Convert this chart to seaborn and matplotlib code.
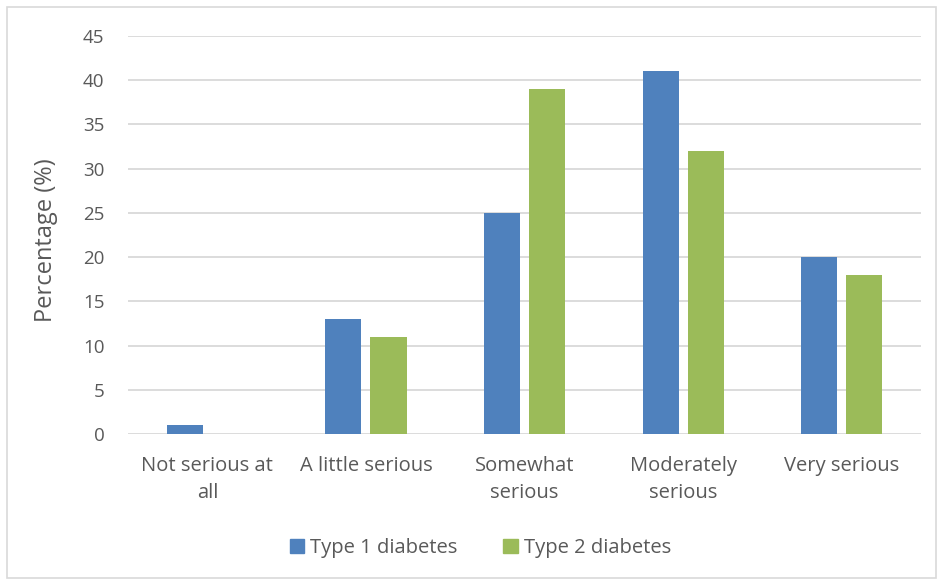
import matplotlib
matplotlib.use("Agg")
import matplotlib.pyplot as plt
from matplotlib.patches import Rectangle
import seaborn as sns
import pandas as pd

categories = ["Not serious at\nall", "A little serious", "Somewhat\nserious",
              "Moderately\nserious", "Very serious"]
series_names = ["Type 1 diabetes", "Type 2 diabetes"]
type1_values = [1, 13, 25, 41, 20]
type2_values = [0, 11, 39, 32, 18]
y_ticks = [0, 5, 10, 15, 20, 25, 30, 35, 40, 45]

df = pd.DataFrame({
    "category": categories * 2,
    "group": [series_names[0]] * len(categories) + [series_names[1]] * len(categories),
    "value": type1_values + type2_values,
})

sns.set_theme(style="white")
plt.rcParams["font.family"] = ["Open Sans", "DejaVu Sans"]
text_color = "#595959"
grid_color = "#D9D9D9"

fig = plt.figure(figsize=(9.38, 5.82), dpi=100)
ax = fig.add_axes([0.1365, 0.2543, 0.8455, 0.6838])

sns.barplot(data=df, x="category", y="value", hue="group", order=categories,
            hue_order=series_names, palette=["#4F81BD", "#9BBB59"],
            width=0.568, gap=0.2, ax=ax, legend=False, saturation=1,
            linewidth=0, edgecolor="none")

ax.set_ylim(0, 45)
ax.set_xlim(-0.5, len(categories) - 0.5)
ax.set_yticks(y_ticks)
ax.yaxis.grid(True, color=grid_color, linewidth=1.3)
ax.set_axisbelow(True)
for s in ax.spines.values():
    s.set_visible(False)
ax.tick_params(axis="x", length=0, colors=text_color, labelsize=14.5, pad=16)
ax.tick_params(axis="y", length=0, colors=text_color, labelsize=13.5, pad=17)
ax.set_xlabel("")
ax.set_ylabel("Percentage (%)", color=text_color, fontsize=17)
ax.yaxis.set_label_coords(-0.0887, 0.487)
for lbl in ax.get_xticklabels():
    lbl.set_linespacing(1.45)

handles = [Rectangle((0, 0), 1, 1, color="#4F81BD"),
           Rectangle((0, 0), 1, 1, color="#9BBB59")]
leg = fig.legend(handles, series_names, loc="center", bbox_to_anchor=(0.512, 0.058),
                 ncol=2, frameon=False, fontsize=14.5, handlelength=0.7,
                 handleheight=0.7, handletextpad=0.3, columnspacing=2.3)
for t in leg.get_texts():
    t.set_color(text_color)

# light outer frame around the chart
fig.patches.append(Rectangle((7 / 938, 4 / 582), 1 - 9 / 938, 1 - 11 / 582,
                             transform=fig.transFigure, fill=False,
                             edgecolor=grid_color, linewidth=1.2))

fig.savefig("out.png", dpi=100)
